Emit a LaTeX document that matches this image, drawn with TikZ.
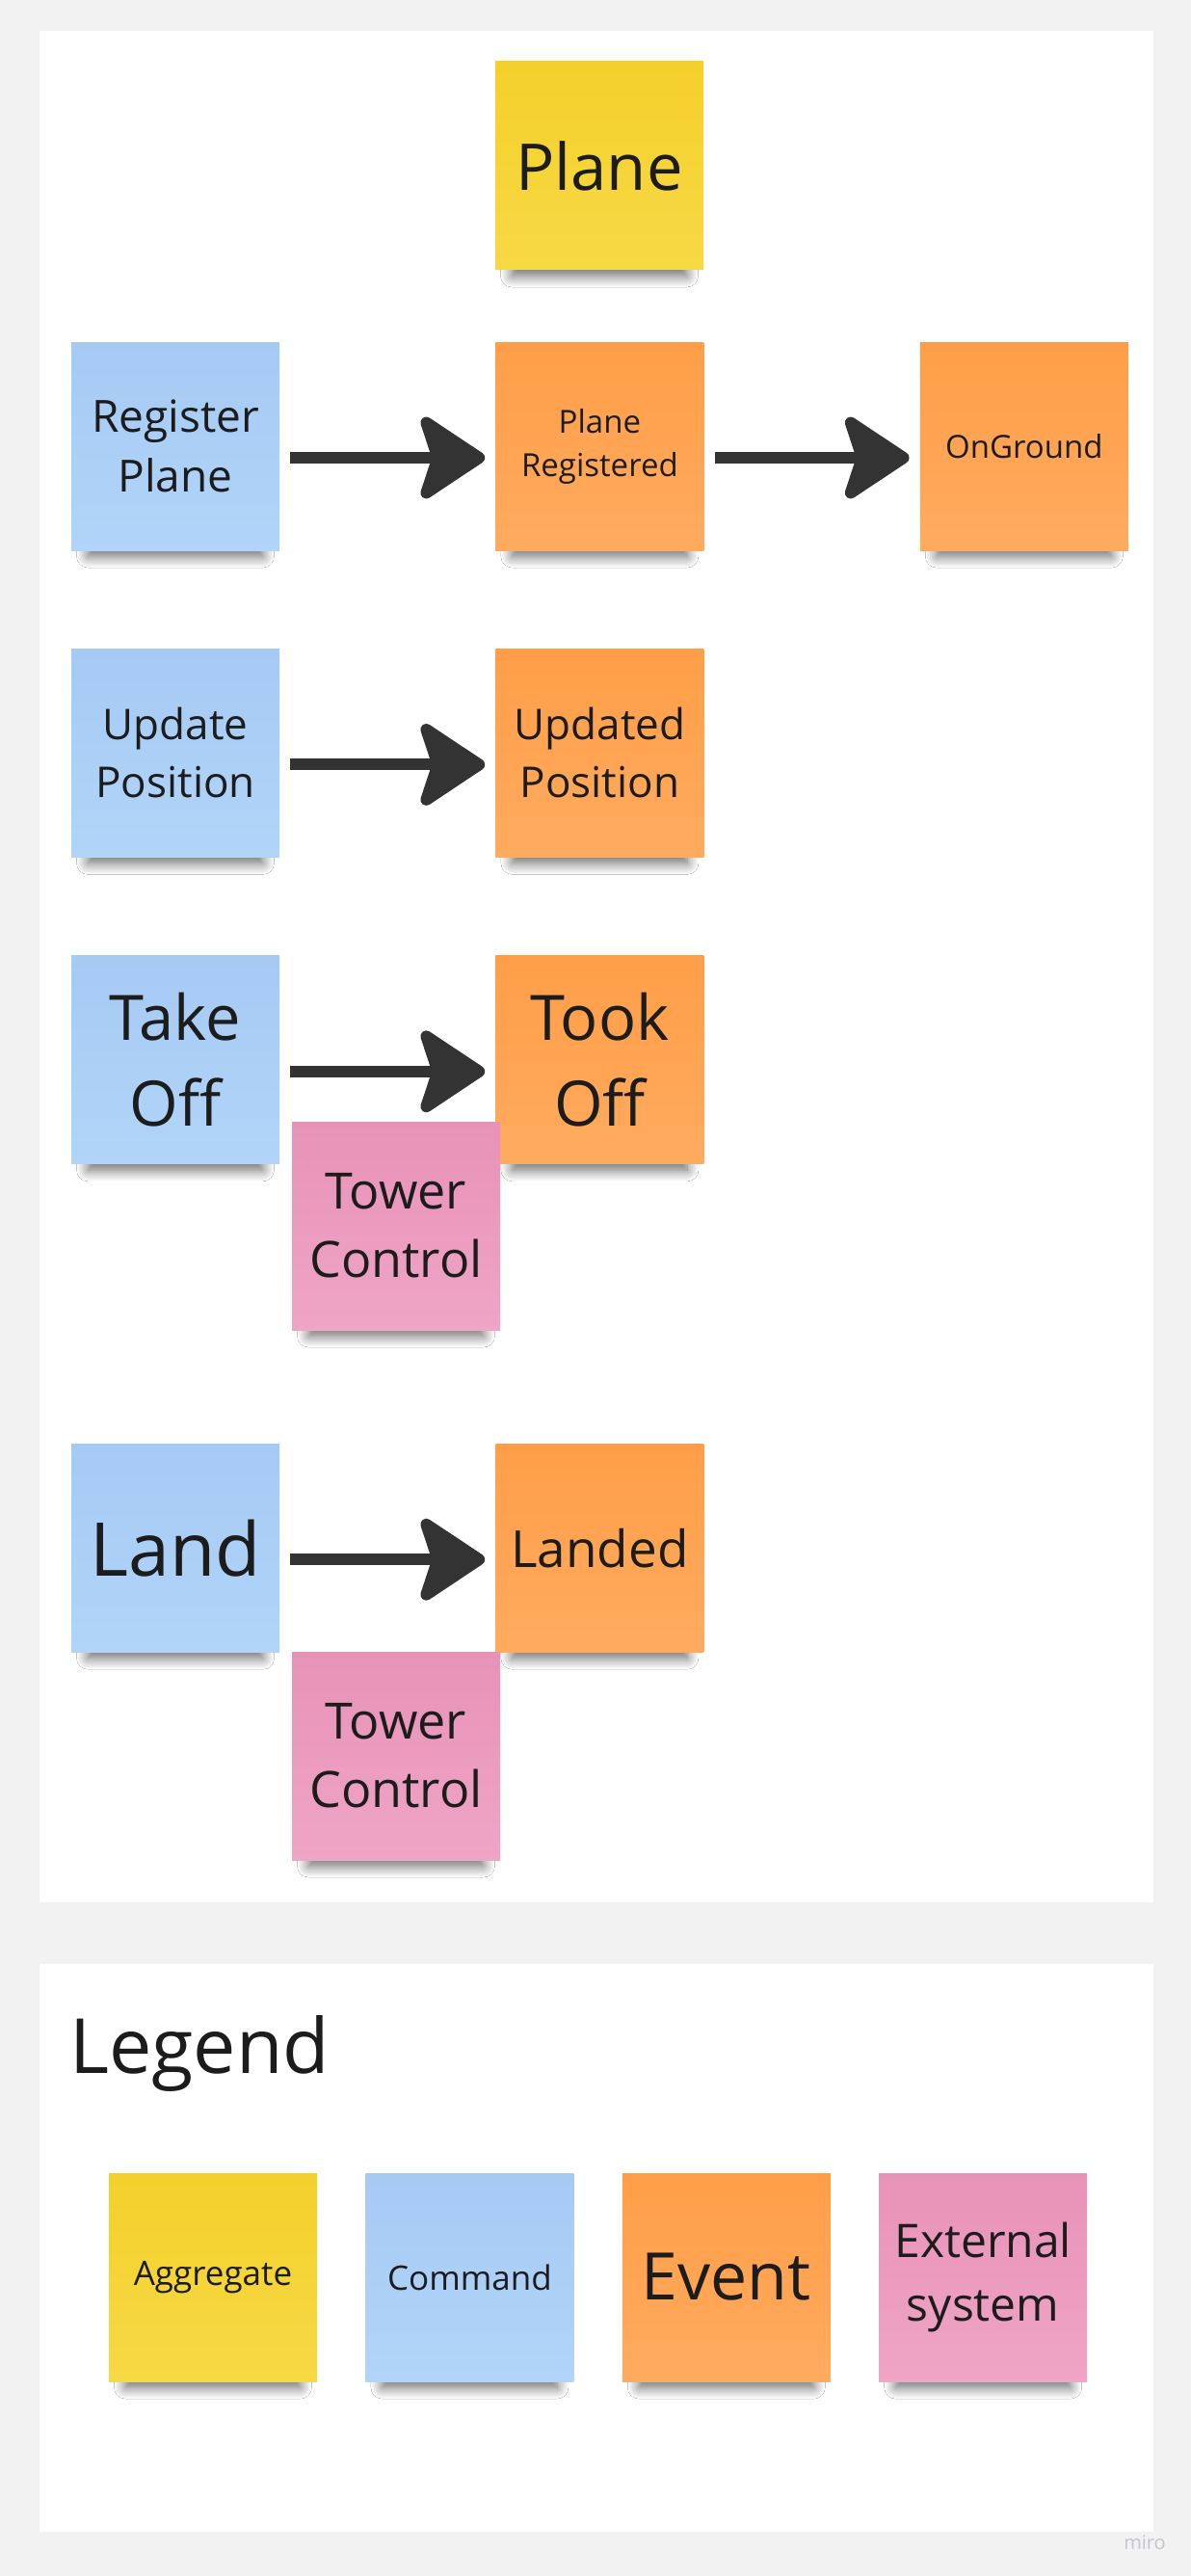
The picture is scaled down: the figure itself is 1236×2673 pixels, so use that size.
\documentclass[tikz,border=0pt]{standalone}
\usepackage{fontspec}
\setmainfont{Open Sans}
\usepackage{tikz}
\usetikzlibrary{positioning,arrows.meta,shadows.blur}

\definecolor{boardgrey}{HTML}{F2F2F2}
\definecolor{inkgrey}{HTML}{1C1C1C}
\definecolor{arrowgrey}{HTML}{333333}
\definecolor{aggtop}{HTML}{F4D02A}
\definecolor{aggbot}{HTML}{F7D946}
\definecolor{cmdtop}{HTML}{A6CAF4}
\definecolor{cmdbot}{HTML}{B1D4F8}
\definecolor{evttop}{HTML}{FF9E48}
\definecolor{evtbot}{HTML}{FFAB5F}
\definecolor{exttop}{HTML}{E892B8}
\definecolor{extbot}{HTML}{EFA5C6}
\definecolor{miroGrey}{HTML}{C4C4D0}

\newcommand{\stickyfont}[1]{\fontsize{#1pt}{\dimexpr #1pt*136/100\relax}\selectfont}

\begin{document}
\begin{tikzpicture}[
x=1pt, y=-1pt,
node distance = 102pt and 224pt,
sticky/.style={rectangle, minimum width=216pt, minimum height=216pt, inner sep=0pt,
  text width=206pt, align=center, text=inkgrey,
  blur shadow={shadow xshift=0pt, shadow yshift=-28pt, shadow scale=0.84,
    shadow blur radius=14pt, shadow blur steps=12, shadow opacity=60}},
aggregate/.style={sticky, top color=aggtop, bottom color=aggbot},
command/.style={sticky, top color=cmdtop, bottom color=cmdbot},
event/.style={sticky, top color=evttop, bottom color=evtbot},
external/.style={sticky, top color=exttop, bottom color=extbot},
flow/.style={draw=arrowgrey, line width=12pt,
  -{Stealth[length=76pt, width=100pt, inset=16pt, round]}, shorten <=11pt, shorten >=11pt}]

\fill[boardgrey] (0,0) rectangle (1236,2673);
\useasboundingbox (0,0) rectangle (1236,2673);
\fill[white] (41,32) rectangle (1197,1974);
\fill[white] (41,2038) rectangle (1197,2627);

\node[aggregate, font=\stickyfont{67}] (plane) at (622,172) {Plane};

\node[command, font=\stickyfont{46}] (rp) at (182,463) {Register\\Plane};
\node[event, font=\stickyfont{33}] (pr) [right = of rp] {Plane\\Registered};
\node[event, font=\stickyfont{33}] (og) [right = of pr] {OnGround};

\node[command, font=\stickyfont{44}] (up) [below = of rp] {Update\\Position};
\node[event, font=\stickyfont{44}] (ud) [right = of up] {Updated\\Position};

\node[command, font=\stickyfont{65}] (to) [below = of up] {Take\\Off};
\node[event, font=\stickyfont{65}] (tk) [right = of to] {Took\\Off};
\node[external, font=\stickyfont{52}] (tc1) at (411,1272) {Tower\\Control};

\node[command, font=\stickyfont{77}] (la) [below = 290pt of to] {Land};
\node[event, font=\stickyfont{53}] (ld) [right = of la] {Landed};
\node[external, font=\stickyfont{52}] (tc2) at (411,1822) {Tower\\Control};

\draw[flow] ([yshift=-12pt]rp.east) -- ([yshift=-12pt]pr.west);
\draw[flow] ([yshift=-12pt]pr.east) -- ([yshift=-12pt]og.west);
\draw[flow] ([yshift=-12pt]up.east) -- ([yshift=-12pt]ud.west);
\draw[flow] ([yshift=-12pt]to.east) -- ([yshift=-12pt]tk.west);
\draw[flow] ([yshift=-12pt]la.east) -- ([yshift=-12pt]ld.west);

\node[anchor=base west, inner sep=0pt, text=inkgrey, font=\fontsize{79pt}{96pt}\selectfont] (legend) at (72,2151) {Legend};
\node[aggregate, font=\stickyfont{35}] (lagg) at (221,2363) {Aggregate};
\node[command, font=\stickyfont{35}] (lcmd) [right = 50pt of lagg] {Command};
\node[event, font=\stickyfont{68}] (levt) [right = 50pt of lcmd] {Event};
\node[external, font=\stickyfont{48}] (lext) [right = 50pt of levt] {External\\system};

\node[text=miroGrey, font=\fontsize{20pt}{24pt}\selectfont, inner sep=0pt] (miro) at (1188,2638) {miro};
\end{tikzpicture}
\end{document}
